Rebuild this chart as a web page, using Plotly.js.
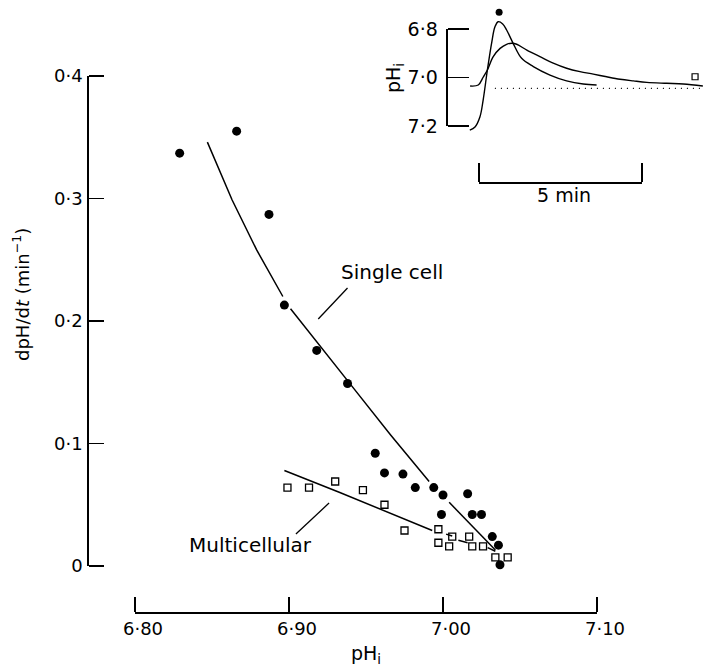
<!DOCTYPE html>
<html>
<head>
<meta charset="utf-8">
<script src="https://cdn.plot.ly/plotly-3.0.1.min.js"></script>
<style>html,body{margin:0;padding:0;background:#fff;}#chart{width:703px;height:668px;}</style>
</head>
<body>
<div id="chart"></div>
<script>
// ---- Main plot data: dpH/dt vs pHi ----
const singleX = [6.829, 6.866, 6.887, 6.897, 6.918, 6.938, 6.956, 6.962, 6.974, 6.982, 6.994, 7.000, 6.999, 7.016, 7.019, 7.025, 7.032, 7.036, 7.037];
const singleY = [0.337, 0.355, 0.287, 0.213, 0.176, 0.149, 0.092, 0.076, 0.075, 0.064, 0.064, 0.058, 0.042, 0.059, 0.042, 0.042, 0.024, 0.017, 0.001];

const multiX = [6.899, 6.913, 6.930, 6.948, 6.962, 6.975, 6.997, 6.997, 7.006, 7.004, 7.017, 7.019, 7.026, 7.034, 7.042];
const multiY = [0.064, 0.064, 0.069, 0.062, 0.050, 0.029, 0.030, 0.019, 0.024, 0.016, 0.024, 0.016, 0.016, 0.007, 0.007];

// fitted curves (null = gap where the line passes a point)
const singleFitX = [6.847, 6.863, 6.879, 6.896, null, 6.901, 6.921, 6.942, 6.966, 6.991, null, 7.004, 7.034];
const singleFitY = [0.346, 0.299, 0.258, 0.220, null, 0.210, 0.178, 0.145, 0.107, 0.069, null, 0.052, 0.013];
const multiFitX = [6.897, 6.933, 6.993, null, 7.002, 7.006, null, 7.010, 7.016, null, 7.029, 7.034];
const multiFitY = [0.078, 0.060, 0.029, null, 0.026, 0.0245, null, 0.021, 0.019, null, 0.015, 0.012];

const xTickVals = [6.80, 6.90, 7.00, 7.10];
const xTickText = ['6·80', '6·90', '7·00', '7·10'];
const yTickVals = [0, 0.1, 0.2, 0.3, 0.4];
const yTickText = ['0', '0·1', '0·2', '0·3', '0·4'];

// ---- Inset: pHi time course (min) ----
const insetSingleT = [0.00, 0.16, 0.31, 0.41, 0.54, 0.67, 0.77, 0.87, 1.01, 1.13, 1.33, 1.59, 1.95, 2.46, 2.97, 3.48, 3.89];
const insetSinglePH = [7.217, 7.204, 7.163, 7.093, 6.969, 6.858, 6.792, 6.770, 6.779, 6.804, 6.859, 6.921, 6.955, 6.990, 7.014, 7.027, 7.031];
const insetMultiT = [0.01, 0.26, 0.41, 0.54, 0.72, 0.93, 1.13, 1.29, 1.44, 1.75, 2.15, 2.56, 2.97, 3.38, 3.79, 4.20, 4.61, 5.02, 5.43, 6.04, 6.55, 7.15];
const insetMultiPH = [7.035, 7.031, 6.999, 6.969, 6.914, 6.880, 6.863, 6.859, 6.863, 6.887, 6.914, 6.941, 6.962, 6.976, 6.986, 6.997, 7.007, 7.014, 7.020, 7.024, 7.027, 7.035];
const baselineT = [0.77, 7.13];
const baselinePH = [7.045, 7.045];
const insetDotT = [0.90], insetDotPH = [6.731];
const insetSqT = [6.91], insetSqPH = [6.997];
const insetTickVals = [6.8, 7.0, 7.2];
const insetTickText = ['6·8', '7·0', '7·2'];
const scaleBarVals = [0, 5];

const FONT = 'DejaVu Sans, Liberation Sans, Arial, sans-serif';
const INK = '#000';

const traces = [
  {x: singleFitX, y: singleFitY, mode: 'lines', line: {color: INK, width: 1.5}, connectgaps: false, hoverinfo: 'skip'},
  {x: multiFitX, y: multiFitY, mode: 'lines', line: {color: INK, width: 1.5}, connectgaps: false, hoverinfo: 'skip'},
  {x: singleX, y: singleY, mode: 'markers', name: 'Single cell', cliponaxis: false,
   marker: {symbol: 'circle', size: 9, color: INK}},
  {x: multiX, y: multiY, mode: 'markers', name: 'Multicellular', cliponaxis: false,
   marker: {symbol: 'square-open', size: 7, color: INK, line: {width: 1.3, color: INK}}},
  // leader lines
  {x: [6.938, 6.919], y: [0.227, 0.2016], mode: 'lines', line: {color: INK, width: 1.3}, hoverinfo: 'skip'},
  {x: [6.926, 6.9045], y: [0.0514, 0.0261], mode: 'lines', line: {color: INK, width: 1.3}, hoverinfo: 'skip'},
  // inset
  {x: insetSingleT, y: insetSinglePH, xaxis: 'x3', yaxis: 'y3', mode: 'lines', line: {color: INK, width: 1.4, shape: 'spline'}},
  {x: insetMultiT, y: insetMultiPH, xaxis: 'x3', yaxis: 'y3', mode: 'lines', line: {color: INK, width: 1.4, shape: 'spline'}},
  {x: baselineT, y: baselinePH, xaxis: 'x3', yaxis: 'y3', mode: 'lines', line: {color: INK, width: 1.2, dash: '1px,5px'}},
  {x: insetDotT, y: insetDotPH, xaxis: 'x3', yaxis: 'y3', mode: 'markers', cliponaxis: false, marker: {symbol: 'circle', size: 7, color: INK}},
  {x: insetSqT, y: insetSqPH, xaxis: 'x3', yaxis: 'y3', mode: 'markers', cliponaxis: false, marker: {symbol: 'square-open', size: 6, color: INK, line: {width: 1.2, color: INK}}},
  // empty traces to realise the inset bracket axes
  {x: [], y: [], xaxis: 'x3', yaxis: 'y4', mode: 'markers'},
  {x: [], y: [], xaxis: 'x4', yaxis: 'y3', mode: 'markers'}
];

const W = 703, H = 668;
const px = v => v / W, py = v => (H - v) / H;

const axBase = {showgrid: false, zeroline: false, showline: true, linecolor: INK, linewidth: 1.5,
  ticks: 'outside', tickcolor: INK, tickwidth: 1.5, fixedrange: true,
  ticklabelposition: 'inside', ticklabeloverflow: 'allow'};

const ann = (text, xPix, yPix, size, angle) => ({
  text: text, x: px(xPix), y: py(yPix), xref: 'paper', yref: 'paper',
  xanchor: 'center', yanchor: 'middle', textangle: angle || 0, showarrow: false,
  font: {family: FONT, size: size, color: INK}
});

const layout = {
  width: W, height: H,
  margin: {l: 0, r: 0, t: 0, b: 0},
  paper_bgcolor: '#fff', plot_bgcolor: 'rgba(0,0,0,0)',
  showlegend: false,
  font: {family: FONT, color: INK, size: 18},
  // x axis: drawn on its "top" side so the ticks point up, labels below
  xaxis: Object.assign({}, axBase, {
    domain: [px(135), px(597)], range: [6.80, 7.10], anchor: 'free', position: py(612), side: 'top',
    ticklen: 15, tickvals: xTickVals, ticktext: xTickText, ticklabelshift: 8, ticklabelstandoff: 10,
    tickfont: {family: FONT, size: 18, color: INK}
  }),
  // y axis: drawn on its "right" side so ticks point right, labels left
  yaxis: Object.assign({}, axBase, {
    domain: [py(566), py(76)], range: [0, 0.4], anchor: 'free', position: px(87), side: 'right',
    ticklen: 15, tickvals: yTickVals, ticktext: yTickText, ticklabelstandoff: 5,
    tickfont: {family: FONT, size: 18, color: INK}
  }),
  xaxis3: {domain: [px(460), 1], range: [-0.3, 7.154], anchor: 'y3', visible: false, fixedrange: true},
  yaxis3: {domain: [py(140.55), py(4.75)], range: [7.26, 6.70], anchor: 'x3', visible: false, fixedrange: true},
  yaxis4: Object.assign({}, axBase, {
    domain: [py(126), py(29)], range: [7.2, 6.8], anchor: 'free', position: px(446), side: 'right',
    ticklen: 21, tickvals: insetTickVals, ticktext: insetTickText, ticklabelstandoff: 9,
    tickfont: {family: FONT, size: 19, color: INK}
  }),
  xaxis4: Object.assign({}, axBase, {
    domain: [px(479), px(642)], range: [0, 5], anchor: 'free', position: py(182), side: 'top',
    ticklen: 19, tickvals: scaleBarVals, showticklabels: false
  }),
  annotations: [
    {text: 'Single cell', x: 6.9669, y: 0.240, xref: 'x', yref: 'y', showarrow: false,
     xanchor: 'center', yanchor: 'middle', font: {family: FONT, size: 20, color: INK}},
    {text: 'Multicellular', x: 6.8747, y: 0.0171, xref: 'x', yref: 'y', showarrow: false,
     xanchor: 'center', yanchor: 'middle', font: {family: FONT, size: 20, color: INK}},
    ann('pH<sub>i</sub>', 366, 654, 19),
    ann('dpH/d<i>t</i> (min<sup>−1</sup>)', 21, 295, 18, -90),
    ann('pH<sub>i</sub>', 395, 78, 19, -90),
    ann('5 min', 564, 195, 19)
  ]
};

Plotly.newPlot('chart', traces, layout, {displayModeBar: false, staticPlot: true});
</script>
</body>
</html>
